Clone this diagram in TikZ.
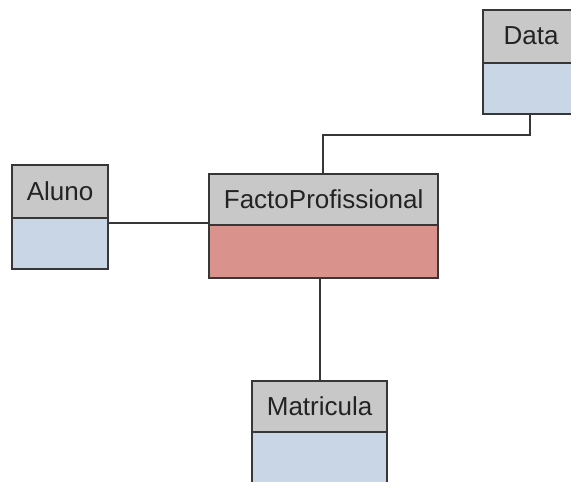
\documentclass[tikz,border=0pt]{standalone}
\usepackage{fontspec}
\setmainfont{Liberation Sans}
\definecolor{headgray}{RGB}{200,200,200}
\definecolor{bodyblue}{RGB}{200,214,230}
\definecolor{bodyrose}{RGB}{217,146,140}
\definecolor{edgegray}{RGB}{55,55,55}
\definecolor{txtgray}{RGB}{35,35,35}
\tikzset{
  headbox/.style={draw=edgegray, line width=2.2pt, fill=headgray, rectangle,
    inner sep=0pt, anchor=north west, text=txtgray,
    font=\fontsize{26}{30}\selectfont},
  bodybox/.style={draw=edgegray, line width=2.2pt, rectangle, inner sep=0pt,
    anchor=north west},
  link/.style={draw=edgegray, line width=2pt}
}
\newcommand{\lifted}[1]{\raisebox{2pt}{#1}}
\begin{document}
\begin{tikzpicture}[x=1pt, y=-1pt]
  \useasboundingbox (0,0) rectangle (571,482);
  \clip (0,0) rectangle (571,482);

  % Data
  \node[bodybox, fill=bodyblue, minimum width=96pt, minimum height=51pt] (dataBody) at (482,62) {};
  \node[headbox, minimum width=96pt, minimum height=53pt] (dataHead) at (482,9) {\lifted{Data}\hspace{5pt}};

  % Aluno
  \node[bodybox, fill=bodyblue, minimum width=96pt, minimum height=51pt] (alunoBody) at (11,217) {};
  \node[headbox, minimum width=96pt, minimum height=53pt] (alunoHead) at (11,164) {\lifted{Aluno}};

  % FactoProfissional
  \node[bodybox, fill=bodyrose, minimum width=229pt, minimum height=53pt] (factoBody) at (208,224) {};
  \node[headbox, minimum width=229pt, minimum height=51pt] (factoHead) at (208,173) {\lifted{FactoProfissional}};

  % Matricula
  \node[bodybox, fill=bodyblue, minimum width=135pt, minimum height=64pt] (matBody) at (251,431) {};
  \node[headbox, minimum width=135pt, minimum height=51pt] (matHead) at (251,380) {\lifted{Matricula}};

  % connectors
  \draw[link] ([yshift=-4pt]alunoHead.south east) -- ([yshift=-4pt]alunoHead.south east -| factoHead.west);
  \coordinate (elbow) at (323,135);
  \draw[link] (dataBody.south -| 530,0) -- (530,135) -- (elbow) -- (elbow |- factoHead.north);
  \draw[link] (matHead.north) -- (matHead.north |- factoBody.south);
\end{tikzpicture}
\end{document}
